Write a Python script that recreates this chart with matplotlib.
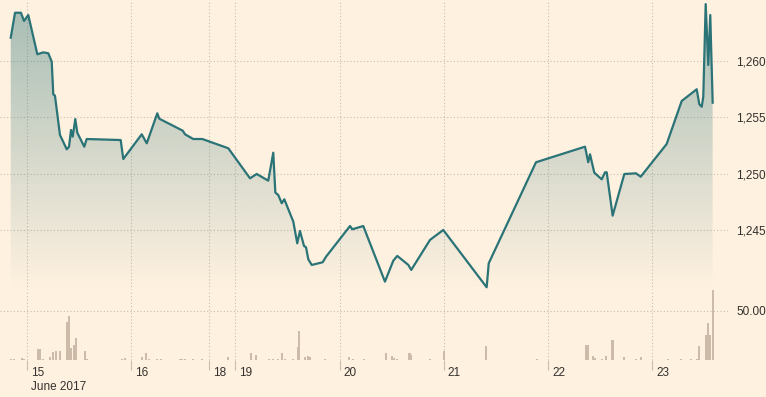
import numpy as np
import matplotlib
matplotlib.use('Agg')
import matplotlib.pyplot as plt
from matplotlib.patches import Polygon
from matplotlib.transforms import blended_transform_factory, offset_copy

plt.rcParams['font.family'] = ['Liberation Sans', 'DejaVu Sans']

# x positions: trading days since 15 June 2017 00:00 (weekend compressed)
price_x = [-0.153, -0.112, -0.055, -0.026, 0.015, 0.102, 0.159, 0.207, 0.240, 0.255,
           0.271, 0.319, 0.384, 0.406, 0.425, 0.441, 0.466, 0.485, 0.552, 0.575,
           0.901, 0.926, 1.103, 1.151, 1.252, 1.271, 1.496, 1.518, 1.597, 1.684,
           1.933, 2.141, 2.205, 2.316, 2.364, 2.384, 2.412, 2.445, 2.470, 2.556,
           2.594, 2.620, 2.659, 2.678, 2.700, 2.733, 2.838, 2.870, 3.100, 3.122,
           3.227, 3.435, 3.515, 3.553, 3.659, 3.687, 3.867, 3.994, 4.410, 4.430,
           4.883, 5.353, 5.384, 5.401, 5.442, 5.513, 5.545, 5.561, 5.618, 5.730,
           5.842, 5.887, 6.136, 6.280, 6.424, 6.449, 6.472, 6.487, 6.510, 6.535,
           6.554, 6.577]
price_y = [1262.04, 1264.25, 1264.25, 1263.52, 1264.05, 1260.57, 1260.74, 1260.66, 1259.91, 1257.02,
           1256.90, 1253.42, 1252.15, 1252.38, 1253.86, 1253.27, 1254.83, 1253.62, 1252.38, 1253.06,
           1252.97, 1251.29, 1253.48, 1252.68, 1255.34, 1254.86, 1253.80, 1253.48, 1253.06, 1253.06,
           1252.24, 1249.58, 1249.96, 1249.37, 1251.85, 1248.31, 1248.10, 1247.37, 1247.72, 1245.74,
           1243.82, 1244.91, 1243.58, 1243.47, 1242.40, 1241.90, 1242.14, 1242.63, 1245.35, 1245.06,
           1245.35, 1240.42, 1242.28, 1242.70, 1241.90, 1241.46, 1244.12, 1245.00, 1239.92, 1242.05,
           1251.00, 1252.38, 1251.00, 1251.71, 1250.08, 1249.49, 1250.11, 1250.11, 1246.27, 1249.96,
           1250.02, 1249.72, 1252.62, 1256.43, 1257.47, 1256.14, 1255.92, 1256.81, 1265.02, 1259.62,
           1264.05, 1256.28]

vol_x = [-0.151, -0.122, -0.048, -0.026, 0.111, 0.128, 0.159, 0.223, 0.255, 0.278,
         0.319, 0.384, 0.406, 0.425, 0.453, 0.473, 0.559, 0.581, 0.911, 0.942,
         1.103, 1.141, 1.173, 1.249, 1.285, 1.470, 1.486, 1.518, 1.594, 1.678,
         1.927, 2.148, 2.199, 2.326, 2.364, 2.409, 2.445, 2.477, 2.556, 2.598,
         2.614, 2.668, 2.700, 2.716, 2.860, 3.093, 3.128, 3.234, 3.445, 3.500,
         3.522, 3.551, 3.669, 3.682, 3.867, 4.001, 4.404, 4.896, 5.363, 5.385,
         5.433, 5.449, 5.513, 5.554, 5.618, 5.727, 5.842, 5.887, 6.151, 6.273,
         6.366, 6.430, 6.449, 6.513, 6.535, 6.551, 6.577]
vol_y = [1, 1, 2, 1, 11, 11, 1, 3, 8, 9,
         9, 39, 45, 12, 15, 22, 9, 1, 1, 2,
         3, 7, 1, 0.7, 0.7, 1, 1, 0.7, 0.7, 1,
         3, 7, 5, 0.7, 0.7, 0.7, 7, 1, 0.7, 13,
         30, 3, 4, 3, 0.7, 3, 0.7, 1, 7, 4,
         2, 0.7, 7, 5, 0.7, 9, 14, 1, 15, 15,
         4, 2, 1, 4, 20, 3, 1, 3, 0.7, 1,
         1, 1, 14, 25, 38, 25, 71]

tick_pos = [0, 1, 1.75, 2, 3, 4, 5, 6]
tick_labels = ['15', '16', '18', '19', '20', '21', '22', '23']
month_label = 'June 2017'
price_ticks = [1245, 1250, 1255, 1260]
vol_ticks = [50]

BG = '#fff1e0'
LINE = '#2a7377'
BAR = '#ccbba8'
GRID = '#c9bdb0'
TXT = '#33302e'

XLIM = (-0.256, 6.724)
PLIM = (1239.68, 1265.38)
VLIM = (0, 71.4)

fig = plt.figure(figsize=(7.66, 3.97), dpi=100, facecolor=BG)
axp = fig.add_axes([0, 107 / 397, 728 / 766, 290 / 397])
axv = fig.add_axes([0, 37 / 397, 728 / 766, 70 / 397])

for ax in (axp, axv):
    ax.set_facecolor(BG)
    for s in ax.spines.values():
        s.set_visible(False)
    ax.set_xlim(*XLIM)
    ax.set_xticks(tick_pos)
    ax.grid(True, color=GRID, linestyle=(0, (1, 2)), linewidth=0.8)
    ax.set_axisbelow(True)
    ax.yaxis.tick_right()
    ax.tick_params(axis='y', length=0, pad=6, labelsize=8.5, labelcolor=TXT)

# price panel
axp.set_ylim(*PLIM)
axp.set_yticks(price_ticks)
axp.set_yticklabels(['{:,}'.format(v) for v in price_ticks])
axp.tick_params(axis='x', length=0, labelbottom=False)

# gradient fill under the line
verts = [(price_x[0], PLIM[0])] + list(zip(price_x, price_y)) + [(price_x[-1], PLIM[0])]
patch = Polygon(verts, closed=True, facecolor='none', edgecolor='none')
axp.add_patch(patch)
n = 256
grad = np.zeros((n, 1, 4))
rgb = matplotlib.colors.to_rgb(LINE)
grad[:, 0, 0] = rgb[0]
grad[:, 0, 1] = rgb[1]
grad[:, 0, 2] = rgb[2]
grad[:, 0, 3] = np.linspace(0.42, 0.0, n)
im = axp.imshow(grad, extent=[XLIM[0], XLIM[1], PLIM[0], PLIM[1]], aspect='auto',
                origin='upper', zorder=1.5, interpolation='bilinear')
im.set_clip_path(patch)
axp.set_xlim(*XLIM)
axp.set_ylim(*PLIM)

axp.plot(price_x, price_y, color=LINE, lw=1.6, zorder=3, solid_joinstyle='round')

# volume panel
axv.set_ylim(*VLIM)
axv.bar(vol_x, vol_y, width=0.022, color=BAR, zorder=2)
axv.set_yticks(vol_ticks)
axv.set_yticklabels(['{:.2f}'.format(v) for v in vol_ticks])
axv.tick_params(axis='x', length=7, width=0.8, color='#c9bdb0', direction='out', labelbottom=False)

tr = blended_transform_factory(axv.transData, axv.transAxes)
for p, lab in zip(tick_pos, tick_labels):
    t = offset_copy(tr, fig=fig, x=4, y=-13, units='dots')
    axv.text(p, 0, lab, transform=t, ha='left', va='center', fontsize=8.5, color=TXT)
t2 = offset_copy(tr, fig=fig, x=4, y=-27, units='dots')
axv.text(tick_pos[0], 0, month_label, transform=t2, ha='left', va='center', fontsize=8.5, color=TXT)

fig.savefig('out.png', dpi=100, facecolor=BG)
